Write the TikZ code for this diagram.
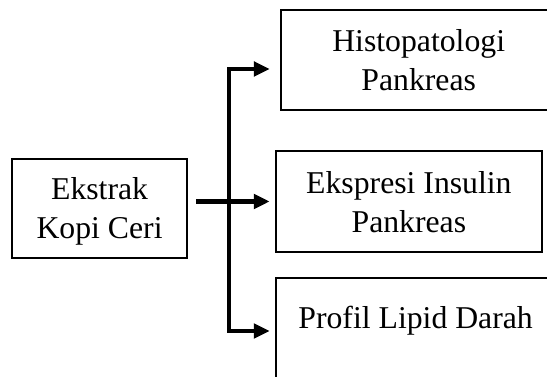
\documentclass[tikz,border=0pt]{standalone}
\usepackage{fontspec}
\setmainfont{Liberation Serif}
\usetikzlibrary{arrows.meta}
\begin{document}
\begin{tikzpicture}[x=0.75pt,y=-0.75pt,
  box/.style={draw, line width=1.5pt, inner sep=0pt, align=center,
    font=\fontsize{23.8pt}{29.25pt}\selectfont, text depth=0pt},
  conn/.style={line width=3.3pt, line join=miter},
  tip/.style={-{Triangle[length=11.8pt,width=10.7pt]}}
]
\useasboundingbox (0,0) rectangle (547,377);
\clip (0,0) rectangle (547,377);
\node[box, minimum width=131.1pt, minimum height=74pt] (left) at (99.6,208.35) {Ekstrak\\Kopi Ceri};
\node[box, minimum width=206.6pt, minimum height=75pt] (box1) at (418.7,60) {Histopatologi\\Pankreas};
\node[box, minimum width=200pt, minimum height=75.2pt] (box2) at (408.9,201.5) {Ekspresi Insulin\\Pankreas};
\node[box, minimum width=210pt, minimum height=75pt, text height=16pt, text depth=16pt] (box3) at (415.6,328.3) {Profil Lipid Darah};
\coordinate (s) at ([xshift=6pt]left.east);
\coordinate (t) at (229,69);
\coordinate (b) at (229,331);
\draw[conn, {Triangle[length=11.8pt,width=10.7pt]}-{Triangle[length=11.8pt,width=10.7pt]}, shorten <=7.7pt, shorten >=3.7pt]
  (t -| box1.west) -- (t) -- (b) -- (b -| box3.west);
\draw[conn, tip, shorten >=3.7pt] (s |- box2.west) -- (box2.west);
\end{tikzpicture}
\end{document}
